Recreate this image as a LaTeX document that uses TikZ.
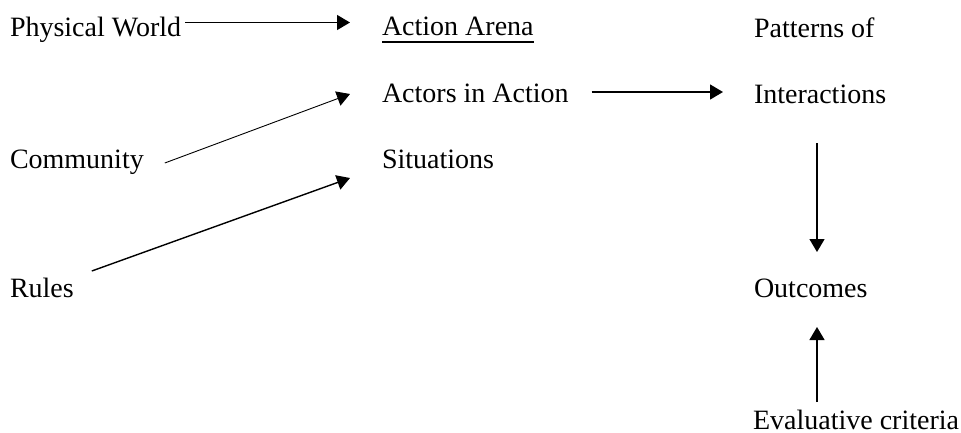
\documentclass[tikz,border=0pt]{standalone}
\usepackage{fontspec}
\setmainfont{Liberation Serif}
\usetikzlibrary{arrows.meta,calc}
\begin{document}
\begin{tikzpicture}[x=1pt,y=-1pt,
  lbl/.style={anchor=base west,inner sep=0pt,outer sep=0pt,font=\fontsize{28}{32}\selectfont},
  arr/.style={line width=1.4pt,-{Triangle[length=13pt,width=15pt]}},
  thinarr/.style={line width=0.9pt,-{Triangle[length=13pt,width=15pt]}}]
\useasboundingbox (0,0) rectangle (961,432);
\node[lbl] (pw) at (10,36.5) {Physical World};
\node[lbl] (aa) at (382,35) {Action Arena};
\node[lbl] (pat) at (754,37) {Patterns of};
\node[lbl] (act) at (382,102) {Actors in Action};
\node[lbl] (inter) at (754,103) {Interactions};
\node[lbl] (com) at (10,168) {Community};
\node[lbl] (sit) at (382,168) {Situations};
\node[lbl] (rules) at (10,297) {Rules};
\node[lbl] (out) at (754,297) {Outcomes};
\node[lbl] (eval) at (753,429) {Evaluative criteria};
% underline
\draw[line width=2pt] ($(aa.base west)+(0,6.5)$) -- ($(aa.base east)+(0,6.5)$);
% connectors
\draw[arr] ($(pw.base east)+(4,-14)$) -- ($(aa.base west)+(-32,-12.5)$);
\draw[arr] ($(act.base east)+(23,-10)$) -- ($(inter.base west)+(-31,-11)$);
\draw[thinarr] ($(com.base east)+(21,-5)$) -- ($(act.base west)+(-32,-8)$);
\draw[arr] ($(rules.base east)+(18,-26)$) -- ($(sit.base west)+(-32,10)$);
\draw[arr] ($(inter.base west)+(63,40)$) -- ($(out.base west)+(63,-45)$);
\draw[arr] ($(eval.base west)+(64,-27)$) -- ($(out.base west)+(63,30)$);
\end{tikzpicture}
\end{document}
